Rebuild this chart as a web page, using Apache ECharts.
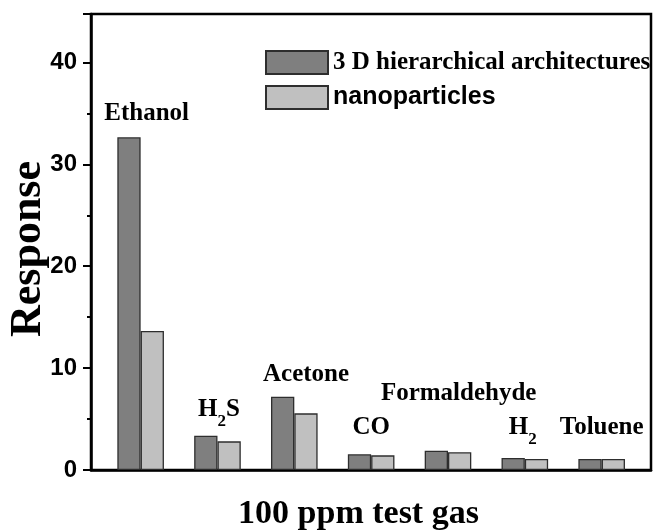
<!DOCTYPE html>
<html>
<head>
<meta charset="utf-8">
<title>Gas response</title>
<script src="https://cdn.jsdelivr.net/npm/echarts@6/dist/echarts.min.js"></script>
<style>
  html, body { margin: 0; padding: 0; background: #fff; }
  #chart { width: 654px; height: 532px; }
</style>
</head>
<body>
<div id="chart"></div>
<script>
// Test gases (digits are drawn as subscripts)
const categories = ['Ethanol', 'H2S', 'Acetone', 'CO', 'Formaldehyde', 'H2', 'Toluene'];
const seriesNames = ['3 D hierarchical architectures', 'nanoparticles'];
// Response to 100 ppm of each gas
const hierarchical = [32.65, 3.37, 7.19, 1.54, 1.89, 1.18, 1.08];
const nanoparticles = [13.64, 2.81, 5.56, 1.44, 1.74, 1.08, 1.08];
const yTicks = [0, 10, 20, 30, 40];

// Where each gas name sits: height on the response scale and sideways nudge in px
const nameLevel = [34.94, 5.94, 9.32, 4.17, 7.54, 4.17, 4.17];
const nameNudge = [6, 1.5, 11.7, 0, 10.7, -2, 0];

const serif = 'Liberation Serif, Times New Roman, serif';
const sans = 'Liberation Sans, Arial, sans-serif';

function richName(name) {
  // letters in the main style, digits lowered as subscripts
  return name.replace(/([^0-9]+)|([0-9]+)/g, (m, a, d) => a ? '{m|' + a + '}' : '{s|' + d + '}');
}

const chart = echarts.init(document.getElementById('chart'), null, { renderer: 'canvas' });

const yMax = 44.75;

chart.setOption({
  animation: false,
  backgroundColor: '#fff',
  grid: {
    left: 91, right: 3, top: 14, bottom: 62,
    containLabel: false,
    outerBoundsMode: 'none',
    show: true, borderColor: '#000', borderWidth: 2.5, backgroundColor: 'transparent'
  },
  legend: {
    orient: 'vertical',
    left: 260, top: 45,
    itemWidth: 62, itemHeight: 23, itemGap: 10,
    icon: 'rect',
    selectedMode: false,
    data: [
      { name: seriesNames[0], textStyle: { fontFamily: serif, fontWeight: 'bold', fontSize: 25, color: '#000', lineHeight: 23 } },
      { name: seriesNames[1], textStyle: { fontFamily: sans, fontWeight: 'bold', fontSize: 25, color: '#000', lineHeight: 23 } }
    ]
  },
  xAxis: {
    type: 'value',
    min: 0.354, max: 7.642,
    name: '100 ppm test gas',
    nameLocation: 'middle',
    nameGap: 27,
    nameMoveOverlap: false,
    nameTextStyle: { fontFamily: serif, fontWeight: 'bold', fontSize: 34, color: '#000', padding: [0, 25, 0, 0] },
    axisLine: { show: true, onZero: false, lineStyle: { color: '#000', width: 2.5 } },
    axisTick: { show: false },
    axisLabel: { show: false },
    splitLine: { show: false }
  },
  yAxis: [
    {
      type: 'value',
      min: 0, max: yMax, interval: 10,
      name: 'Response',
      nameLocation: 'middle',
      nameRotate: 90,
      nameGap: 40,
      nameMoveOverlap: false,
      nameTextStyle: { fontFamily: serif, fontWeight: 'bold', fontSize: 44, color: '#000', padding: [0, 14, 0, 0] },
      axisLine: { show: true, lineStyle: { color: '#000', width: 2.5 } },
      axisTick: { show: true, inside: false, length: 8, lineStyle: { color: '#000', width: 2 } },
      axisLabel: {
        margin: 14,
        fontFamily: sans, fontWeight: 'bold', fontSize: 24, color: '#000',
        formatter: v => yTicks.includes(v) ? String(v) : ''
      },
      splitLine: { show: false }
    },
    {
      // half-step minor ticks
      type: 'value',
      position: 'left',
      offset: 0,
      min: 0, max: yMax, interval: 5,
      axisLine: { show: false },
      axisTick: { show: true, inside: false, length: 4, lineStyle: { color: '#000', width: 2 } },
      axisLabel: { show: false },
      splitLine: { show: false }
    }
  ],
  series: [
    {
      name: seriesNames[0],
      type: 'bar',
      barWidth: 23.3,
      barGap: '0%',
      data: hierarchical.map((v, i) => [i + 1, v]),
      itemStyle: { color: '#7f7f7f', borderColor: '#2e2e2e', borderWidth: 1.3 }
    },
    {
      name: seriesNames[1],
      type: 'bar',
      barWidth: 23.3,
      barGap: '0%',
      data: nanoparticles.map((v, i) => [i + 1, v]),
      itemStyle: { color: '#c0c0c0', borderColor: '#2e2e2e', borderWidth: 1.3 }
    },
    {
      name: 'gas names',
      type: 'scatter',
      silent: true,
      symbolSize: 1,
      itemStyle: { color: 'transparent' },
      z: 5,
      data: categories.map((c, i) => ({
        value: [i + 1, nameLevel[i]],
        name: c,
        label: { offset: [nameNudge[i], 0] }
      })),
      label: {
        show: true,
        position: 'inside',
        color: '#000',
        opacity: 1,
        textBorderWidth: 0,
        formatter: p => richName(p.name),
        rich: {
          m: { fontFamily: serif, fontWeight: 'bold', fontSize: 25, color: '#000', lineHeight: 42, textBorderWidth: 0 },
          s: { fontFamily: serif, fontWeight: 'bold', fontSize: 17, color: '#000', lineHeight: 17, verticalAlign: 'bottom', textBorderWidth: 0 }
        }
      }
    }
  ]
});
</script>
</body>
</html>
